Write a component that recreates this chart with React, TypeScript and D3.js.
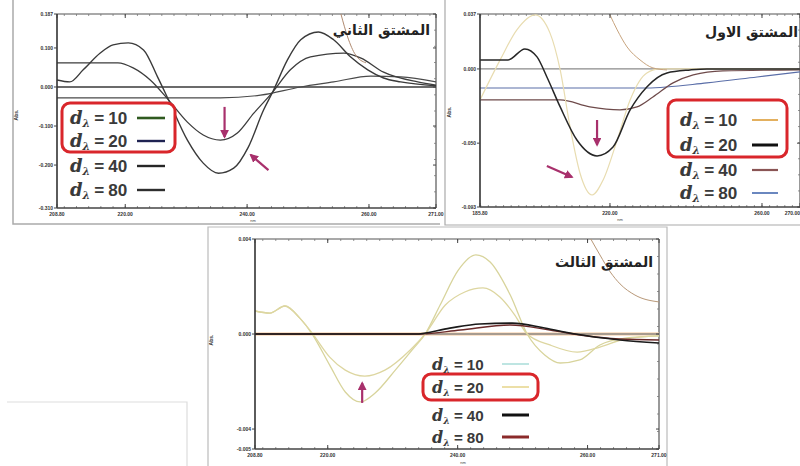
import React from 'react';
import * as d3 from 'd3';

type Pt = [number, number];

// ---------- Panel 1 : second derivative (wavelength nm, value) ----------
const p1XTicks = [208.8, 220, 240, 260, 271];
const p1YTicks = [0.187, 0.1, 0, -0.1, -0.2, -0.31];
const p1SerA: Pt[] = [[208.8,0.018],[210.9,0.013],[213.1,0.044],[215.9,0.087],[218.0,0.108],[220.5,0.113],[223.0,0.095],[225.3,0.026],[227.1,-0.033],[230.2,-0.136],[232.8,-0.195],[235.3,-0.221],[237.8,-0.208],[240.2,-0.154],[242.7,-0.059],[244.2,-0.013],[246.6,0.069],[248.8,0.121],[251.7,0.141],[254.2,0.121],[257.0,0.077],[259.8,0.044],[262.4,0.023],[265.2,0.013],[271.0,0.003]];
const p1SerB: Pt[] = [[208.8,0.062],[218.8,0.062],[221.3,0.049],[224.1,0.018],[227.1,-0.033],[230.2,-0.090],[232.8,-0.123],[235.6,-0.136],[238.4,-0.118],[241.1,-0.067],[244.2,-0.013],[247.1,0.044],[250.4,0.077],[255.9,0.087],[258.7,0.074],[262.4,0.038],[268.0,0.013],[271.0,0.005]];
const p1SerC: Pt[] = [[208.8,0],[271.0,0]];
const p1SerD: Pt[] = [[208.8,-0.028],[235.6,-0.028],[242.2,-0.021],[248.8,0],[254.2,0.013],[260.3,0.028],[265.2,0.026],[271.0,0.013]];
const p1SerE: Pt[] = [[255.4,0.187],[256.5,0.128],[257.8,0.082],[259.5,0.062]];
const p1Arrows: [Pt, Pt][] = [[[236.3,-0.051],[236.3,-0.128]],[[243.5,-0.213],[240.6,-0.174]]];

// ---------- Panel 2 : first derivative ----------
const p2XTicks = [185.8, 220, 260, 270];
const p2YTicks = [0.037, 0, -0.05, -0.093];
const p2Ser10: Pt[] = [[185.8,-0.0209],[191.1,0.0061],[195.5,0.0263],[200.3,0.0364],[204.2,0.0243],[206.9,-0.0007],[209.5,-0.0391],[212.1,-0.0701],[215.3,-0.0849],[218.2,-0.0748],[221.9,-0.0479],[225.3,-0.0209],[229.7,-0.0027],[233.2,0],[270.0,0]];
const p2SerOff: Pt[] = [[220.0,0.0364],[221.9,0.0263],[224.5,0.0148],[227.9,0.0061],[231.3,0.0007],[235.0,-0.0007]];
const p2Ser20: Pt[] = [[185.8,0.0061],[193.2,0.0061],[197.6,0.0135],[200.8,0.0081],[203.4,-0.0054],[206.9,-0.0256],[211.3,-0.0479],[216.6,-0.0586],[220.8,-0.0526],[225.3,-0.0276],[229.7,-0.0121],[235.0,-0.0027],[241.1,-0.0007],[245.5,0],[270.0,0]];
const p2Ser40: Pt[] = [[185.8,-0.0209],[206.9,-0.0209],[214.7,-0.0256],[222.6,-0.0276],[227.1,-0.0256],[231.3,-0.0189],[236.6,-0.0094],[241.9,-0.0040],[249.7,-0.0013],[270.0,-0.0007]];
const p2Ser80: Pt[] = [[185.8,-0.0128],[229.7,-0.0128],[245.5,-0.0094],[258.7,-0.0054],[270.0,-0.0020]];
const p2Zero: Pt[] = [[185.8,0],[270.0,0]];
const p2Arrows: [Pt, Pt][] = [[[216.6,-0.0344],[216.6,-0.0512]],[[203.4,-0.0654],[210.0,-0.0728]]];

// ---------- Panel 3 : third derivative ----------
const p3XTicks = [208.8, 220, 240, 260, 271];
const p3YTicks = [0.004, 0, -0.004, -0.00484];
const p3SerA: Pt[] = [[208.8,0.00097],[211.1,0.00088],[213.4,0.00118],[215.7,0.00067],[217.6,0],[220.3,-0.00131],[222.7,-0.00244],[225.0,-0.00286],[227.3,-0.00248],[230.4,-0.00152],[233.0,-0.00067],[235.0,0],[237.3,0.00122],[240.1,0.00269],[242.8,0.00333],[245.0,0.00303],[248.1,0.00164],[250.7,0],[253.4,-0.00088],[255.8,-0.00122],[258.8,-0.00109],[261.9,-0.00046],[265.8,-0.00017],[271.0,-0.00008]];
const p3SerB: Pt[] = [[208.8,0.00097],[211.1,0.00088],[213.4,0.00118],[215.7,0.00067],[217.6,0.00004],[220.3,-0.00097],[222.7,-0.00152],[225.7,-0.00177],[228.8,-0.00152],[232.7,-0.00067],[235.0,0],[238.1,0.00122],[241.1,0.00177],[243.9,0.00194],[246.5,0.00156],[248.8,0.0008],[250.7,0],[254.2,-0.00046],[258.4,-0.00076],[261.9,-0.00055],[265.8,-0.00021],[271.0,-0.00008]];
const p3Ser40: Pt[] = [[208.8,0],[233.4,0],[238.8,0.00025],[243.4,0.00042],[248.4,0.00046],[253.4,0.00025],[258.1,0],[265.0,-0.00025],[271.0,-0.00038]];
const p3Ser80: Pt[] = [[208.8,0],[234.2,0],[240.4,0.00017],[248.1,0.00038],[254.2,0.00017],[258.8,-0.00004],[265.0,-0.00021],[271.0,-0.00025]];
const p3Zero: Pt[] = [[208.8,0],[271.0,0]];
const p3SerOff: Pt[] = [[260.5,0.004],[261.9,0.00333],[263.5,0.00261],[265.0,0.00211],[267.3,0.00164],[271.0,0.00135]];
const p3Arrows: [Pt, Pt][] = [[[225.3,-0.0029],[225.3,-0.00206]]];

const legendLabels = ['10', '20', '40', '80'];
const titles = ['المشتق الثاني', 'المشتق الاول', 'المشتق الثالث'];

const ARROW = '#a8306c';

type Series = { data: Pt[]; color: string; width: number; opacity?: number };
type Box = { l: number; t: number; r: number; b: number };

function Panel(props: {
  id: string; box: Box; xDomain: [number, number]; yDomain: [number, number];
  xTicks: number[]; yTicks: number[]; yDigits: number; series: Series[]; arrows: [Pt, Pt][]; lastAnchorEnd?: boolean;
}) {
  const { id, box, xDomain, yDomain, xTicks, yTicks, yDigits, series, arrows, lastAnchorEnd } = props;
  const x = d3.scaleLinear().domain(xDomain).range([box.l, box.r]);
  const y = d3.scaleLinear().domain(yDomain).range([box.b, box.t]);
  const line = d3.line<Pt>().x(d => x(d[0])).y(d => y(d[1])).curve(d3.curveMonotoneX);
  const minor = d3.range(Math.ceil(xDomain[0] / 2) * 2, xDomain[1], 2);
  const yMinor = d3.range(yDomain[0], yDomain[1], (yDomain[1] - yDomain[0]) / 12);
  return (
    <g>
      <defs>
        <clipPath id={`clip-${id}`}>
          <rect x={box.l} y={box.t} width={box.r - box.l} height={box.b - box.t} />
        </clipPath>
      </defs>
      <line x1={box.l} x2={box.r} y1={box.t} y2={box.t} stroke="#555" strokeWidth={1.2} />
      <line x1={box.r} x2={box.r} y1={box.t} y2={box.b} stroke="#555" strokeWidth={1.2} />
      {minor.map((v, i) => (
        <g key={`mn${i}`}>
          <line x1={x(v)} x2={x(v)} y1={box.t} y2={box.t + 2} stroke="#777" strokeWidth={0.8} />
          <line x1={x(v)} x2={x(v)} y1={box.b} y2={box.b - 2} stroke="#777" strokeWidth={0.8} />
        </g>
      ))}
      {yMinor.map((v, i) => (
        <line key={`ym${i}`} x1={box.r} x2={box.r - 2} y1={y(v)} y2={y(v)} stroke="#777" strokeWidth={0.8} />
      ))}
      <g clipPath={`url(#clip-${id})`}>
        {series.map((s, i) => (
          <path key={i} d={line(s.data) || ''} fill="none" stroke={s.color} strokeWidth={s.width} strokeOpacity={s.opacity ?? 1} />
        ))}
      </g>
      <line x1={box.l} x2={box.l} y1={box.t} y2={box.b} stroke="#333" strokeWidth={1.6} />
      <line x1={box.l} x2={box.r} y1={box.b} y2={box.b} stroke="#444" strokeWidth={1.4} />
      {xTicks.map((v, i) => (
        <g key={`xt${i}`}>
          <line x1={x(v)} x2={x(v)} y1={box.b} y2={box.b - 4} stroke="#444" />
          <line x1={x(v)} x2={x(v)} y1={box.t} y2={box.t + 4} stroke="#444" />
          <text x={x(v)} y={box.b + 8} fontSize={5} fontWeight="bold"
            textAnchor={lastAnchorEnd && i === xTicks.length - 1 ? 'end' : 'middle'}
            fill="#333" fontFamily="Liberation Sans">{v.toFixed(2)}</text>
        </g>
      ))}
      {yTicks.map((v, i) => (
        <g key={`yt${i}`}>
          <line x1={box.l - 3} x2={box.l} y1={y(v)} y2={y(v)} stroke="#444" />
          <line x1={box.r - 3} x2={box.r} y1={y(v)} y2={y(v)} stroke="#444" />
          <text x={box.l - 4} y={y(v) + 2} fontSize={5} fontWeight="bold" textAnchor="end" fill="#333" fontFamily="Liberation Sans">{v.toFixed(yDigits)}</text>
        </g>
      ))}
      {arrows.map((a, i) => (
        <line key={`ar${i}`} x1={x(a[0][0])} y1={y(a[0][1])} x2={x(a[1][0])} y2={y(a[1][1])}
          stroke={ARROW} strokeWidth={2.2} markerEnd="url(#arrowHead)" />
      ))}
    </g>
  );
}

function Legend(props: { x: number; lineX: [number, number]; ys: number[]; colors: string[]; widths: number[]; size: number; box?: { x: number; y: number; w: number; h: number } }) {
  const { x, lineX, ys, colors, widths, size, box } = props;
  return (
    <g>
      {box && <rect x={box.x} y={box.y} width={box.w} height={box.h} rx={8} fill="none" stroke="#d9262b" strokeWidth={3} />}
      {legendLabels.map((lab, i) => (
        <g key={i}>
          <text x={x} y={ys[i]} fill="#3a3a3a" fontWeight="bold">
            <tspan fontFamily="DejaVu Serif" fontStyle="italic" fontSize={size}>d</tspan>
            <tspan fontFamily="DejaVu Serif" fontStyle="italic" fontSize={size * 0.6} dy={3}>λ</tspan>
            <tspan fontFamily="Liberation Sans" fontSize={size * 0.95} dy={-3} dx={4}>=</tspan>
            <tspan fontFamily="Liberation Sans" fontSize={size * 0.95} dx={4}>{lab}</tspan>
          </text>
          <line x1={lineX[0]} x2={lineX[1]} y1={ys[i] - 6} y2={ys[i] - 6} stroke={colors[i]} strokeWidth={widths[i]} />
        </g>
      ))}
    </g>
  );
}

export default function App() {
  const b1: Box = { l: 57, t: 14, r: 436, b: 208 };
  const b2: Box = { l: 480, t: 14, r: 800, b: 207 };
  const b3: Box = { l: 255, t: 239, r: 659, b: 449 };
  return (
    <svg width={800} height={466} style={{ position: 'absolute', left: 0, top: 0, background: '#fff' }}>
      <defs>
        <marker id="arrowHead" viewBox="0 0 10 10" refX={8} refY={5} markerWidth={4} markerHeight={4} orient="auto">
          <path d="M0,0 L10,5 L0,10 z" fill={ARROW} />
        </marker>
      </defs>
      <rect x={0} y={0} width={800} height={466} fill="#fff" />
      <path d="M13,0 V224 H440" fill="none" stroke="#aaa" strokeWidth={1.5} />
      <path d="M445,0 V225 H800" fill="none" stroke="#aaa" strokeWidth={1.2} />
      <path d="M208,466 V227 H667 V466" fill="none" stroke="#bbb" strokeWidth={1.2} />
      <path d="M7,402 H187 V466" fill="none" stroke="#ddd" strokeWidth={1.2} />

      {/* Panel 1 */}
      <Panel id="p1" box={b1} xDomain={[208.8, 271]} yDomain={[-0.31, 0.187]} xTicks={p1XTicks} yTicks={p1YTicks} yDigits={3}
        series={[
          { data: p1SerC, color: '#3a3a3a', width: 1.3 },
          { data: p1SerD, color: '#4a4a4a', width: 1.2 },
          { data: p1SerB, color: '#3d3d3d', width: 1.3 },
          { data: p1SerA, color: '#3a3a3a', width: 1.4 },
          { data: p1SerE, color: '#b08a70', width: 1 },
        ]}
        arrows={p1Arrows} />
      <text x={18} y={115} fontSize={5} transform="rotate(-90 18 115)" textAnchor="middle" fontFamily="Liberation Sans" fontWeight="bold" fill="#333">Abs.</text>
      <text x={253} y={222} fontSize={4} textAnchor="middle" fontFamily="Liberation Sans" fill="#444">nm</text>
      <rect x={62} y={103} width={113} height={49} rx={8} fill="#fff" stroke="none" />
      <Legend x={70} lineX={[137, 165]} ys={[124, 147, 172, 196]} colors={['#2f5a20', '#1f2352', '#262626', '#2e2e2e']} widths={[2.6, 2.4, 2.4, 2.4]} size={18}
        box={{ x: 62, y: 103, w: 113, h: 49 }} />
      <text x={430} y={35} textAnchor="end" fontSize={14} fontWeight="bold" fontFamily="DejaVu Sans" fill="#222">{titles[0]}</text>

      {/* Panel 2 */}
      <Panel id="p2" box={b2} xDomain={[185.8, 270]} yDomain={[-0.093, 0.037]} xTicks={p2XTicks} yTicks={p2YTicks} yDigits={3} lastAnchorEnd
        series={[
          { data: p2Zero, color: '#8a8a8a', width: 1.3 },
          { data: p2Ser80, color: '#5a6ea8', width: 1.1 },
          { data: p2Ser40, color: '#6e4a4a', width: 1.2 },
          { data: p2Ser10, color: '#e8dcb0', width: 1.2 },
          { data: p2SerOff, color: '#c8a47e', width: 1 },
          { data: p2Ser20, color: '#262626', width: 1.5 },
        ]}
        arrows={p2Arrows} />
      <text x={451} y={112} fontSize={5} transform="rotate(-90 451 112)" textAnchor="middle" fontFamily="Liberation Sans" fontWeight="bold" fill="#333">Abs.</text>
      <text x={620} y={221} fontSize={4} textAnchor="middle" fontFamily="Liberation Sans" fill="#444">nm</text>
      <rect x={668} y={100} width={119} height={57} rx={8} fill="#fff" stroke="none" />
      <Legend x={680} lineX={[752, 778]} ys={[126, 151, 176, 199]} colors={['#e0a84c', '#111111', '#8a5555', '#5a7ab8']} widths={[1.8, 3, 2.2, 1.8]} size={18}
        box={{ x: 668, y: 100, w: 119, h: 57 }} />
      <text x={798} y={37} textAnchor="end" fontSize={14} fontWeight="bold" fontFamily="DejaVu Sans" fill="#222">{titles[1]}</text>

      {/* Panel 3 */}
      <Panel id="p3" box={b3} xDomain={[208.8, 271]} yDomain={[-0.00484, 0.004]} xTicks={p3XTicks} yTicks={p3YTicks} yDigits={3}
        series={[
          { data: p3Zero, color: '#f6cfa8', width: 4, opacity: 0.6 },
          { data: p3Zero, color: '#555555', width: 1.2 },
          { data: p3SerOff, color: '#b89878', width: 1 },
          { data: p3SerA, color: '#d8d49c', width: 1.3 },
          { data: p3SerB, color: '#ddd6a0', width: 1.3 },
          { data: p3Ser80, color: '#6a2a2a', width: 1.4 },
          { data: p3Ser40, color: '#1a1a1a', width: 1.6 },
        ]}
        arrows={p3Arrows} />
      <text x={213} y={340} fontSize={5} transform="rotate(-90 213 340)" textAnchor="middle" fontFamily="Liberation Sans" fontWeight="bold" fill="#333">Abs.</text>
      <text x={463} y={464} fontSize={4} textAnchor="middle" fontFamily="Liberation Sans" fill="#444">nm</text>
      <Legend x={432} lineX={[502, 529]} ys={[370, 393, 421, 443]} colors={['#a8dcd8', '#e6d48a', '#111111', '#8b2a2a']} widths={[1.5, 1.5, 3, 3]} size={16}
        box={{ x: 423, y: 374, w: 115, h: 26 }} />
      <text x={653} y={267} textAnchor="end" fontSize={14} fontWeight="bold" fontFamily="DejaVu Sans" fill="#222">{titles[2]}</text>
    </svg>
  );
}
